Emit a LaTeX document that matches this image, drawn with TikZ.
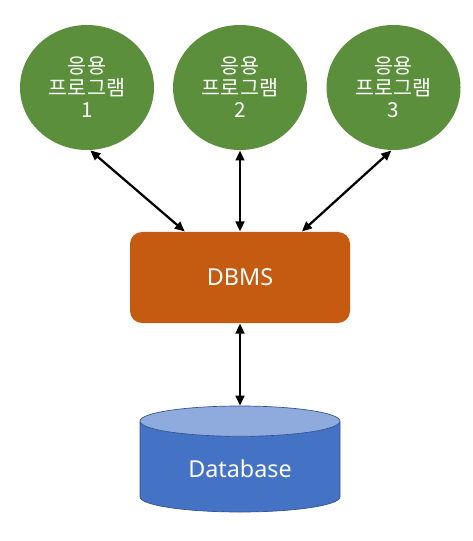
\documentclass[tikz,border=0pt]{standalone}
\usepackage{fontspec}
\setmainfont{Noto Sans}
\newfontfamily\krfont{Noto Sans CJK KR}
\usetikzlibrary{shapes.geometric,arrows.meta,calc}

\definecolor{appgreen}{RGB}{91,143,59}
\definecolor{dbmsorange}{RGB}{197,90,17}
\definecolor{dbblue}{RGB}{68,114,196}
\definecolor{dbtopblue}{RGB}{143,170,220}
\definecolor{dbline}{RGB}{47,82,143}

\tikzset{every picture/.style={line width=0.75pt}}
\tikzset{
  appnode/.style={ellipse, fill=appgreen, minimum width=100.5pt, minimum height=93.75pt,
    inner sep=0pt, text=white, align=center, font=\krfont\fontsize{15.5}{16.5}\selectfont},
  dbmsnode/.style={rectangle, rounded corners=9pt, fill=dbmsorange, minimum width=165pt,
    minimum height=68.25pt, text=white, font=\fontsize{17.5}{20}\selectfont},
  dbnode/.style={cylinder, shape border rotate=90, aspect=0.27, draw=dbline, line width=0.5pt,
    cylinder uses custom fill, cylinder body fill=dbblue, cylinder end fill=dbtopblue,
    minimum width=150pt, minimum height=79.5pt, text=white, font=\fontsize{17.5}{20}\selectfont},
  link/.style={{Triangle[length=7.5pt,width=6.5pt]}-{Triangle[length=7.5pt,width=6.5pt]}, line width=1.7pt}
}

\begin{document}
\begin{tikzpicture}[x=0.75pt,y=0.75pt,yscale=-1,xscale=1]
\useasboundingbox (0,0) rectangle (473,541);

% application programs
\node [appnode] (app1) at (87,87.5) {응용\\프로그램\\1};
\node [appnode] (app2) at (240,87.5) {응용\\프로그램\\2};
\node [appnode] (app3) at (393.5,87.5) {응용\\프로그램\\3};

% DBMS
\node [dbmsnode] (dbms) at (240,277.5) {DBMS};

% Database
\node [dbnode, anchor=shape center] (db) at (240,459) {Database};

% connectors
\draw [link] (app1.273) -- ($(dbms.north west)!0.25!(dbms.north east)$);
\draw [link] (app2) -- (dbms);
\draw [link] (app3.268) -- ($(dbms.north west)!0.78!(dbms.north east)$);
\draw [link] (dbms) -- (db);

\end{tikzpicture}
\end{document}
